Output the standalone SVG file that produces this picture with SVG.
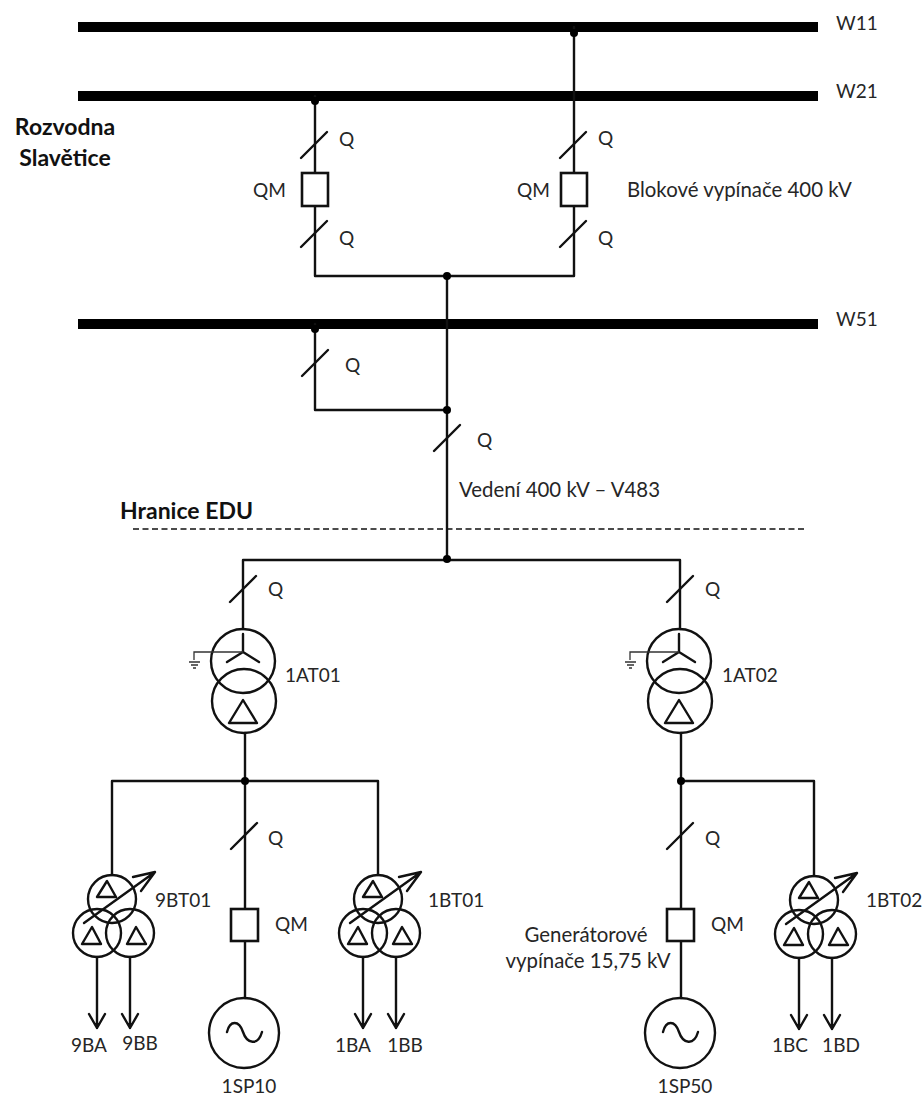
<svg xmlns="http://www.w3.org/2000/svg" width="924" height="1095" viewBox="0 0 924 1095">
<style>
text{font-family:Lato,"Liberation Sans",sans-serif;font-size:19px;fill:#262626}
.b{font-weight:700;font-size:23px;fill:#111}
.w{font-size:20.4px}
.m{text-anchor:middle}
.l{fill:none;stroke:#111;stroke-width:2.4;stroke-linecap:round;stroke-linejoin:round}
.g{fill:none;stroke:#333;stroke-width:1.3}
.s{fill:#fff;stroke:#111;stroke-width:2.6}
.bus{stroke:#000;stroke-width:10}
.d{fill:#000}
</style>
<defs>
<path id="slash" class="l" d="M-13 13L13 -13"/>
<g id="three">
<circle class="l" cx="0" cy="0" r="24"/><circle class="l" cx="-15" cy="34" r="24"/><circle class="l" cx="18" cy="34" r="24"/>
<path class="l" d="M-5 -18L-15 -2H4ZM-20 28L-30 45H-11ZM24 28L15 45H34Z"/>
<path class="l" d="M-28 24L43 -27M21 -22L43 -27L29 -8"/>
<path class="l" d="M-15 58V129M-23 115L-15 129L-7 115M18 58V129M10 115L18 129L26 115"/>
</g>
<g id="tx">
<circle class="l" cx="0" cy="0" r="32"/><circle class="l" cx="1" cy="40" r="32"/>
<path class="l" d="M0 -9V-27M0 -9L-16 1M0 -9L16 1M0 39L-14 62H14Z"/>
<path class="g" d="M0 -9H-49V-1M-54 1H-43M-52 4H-45M-50 7H-47"/>
</g>
<g id="gen">
<circle class="l" cx="0" cy="0" r="35"/>
<path class="l" d="M-17 -1C-14 -13 -5 -13 -1 -1C3 11 14 13 18 -1"/>
</g>
</defs>
<g id="connectors">
<path class="bus" d="M78 27H818M78 96H818M78 324H818"/>
<path class="l" d="M315 96V276H574V27M447 276V560M315 324V410H447"/>
<path d="M133 529H806" fill="none" stroke="#111" stroke-width="1.3" stroke-dasharray="6 3.5"/>
<path class="l" d="M243 629V560H680V629M245 733V998M112 875V781H378V875M681 733V998M681 781H814V876"/>
<g class="d"><circle cx="574" cy="33" r="4"/><circle cx="315" cy="101" r="4"/><circle cx="447" cy="276" r="4"/><circle cx="315" cy="329" r="4"/><circle cx="447" cy="410" r="4"/><circle cx="447" cy="559" r="4"/><circle cx="245" cy="781" r="4"/><circle cx="681" cy="781" r="4"/></g>
<use href="#slash" x="314" y="145"/><use href="#slash" x="314" y="234"/><use href="#slash" x="573" y="145"/><use href="#slash" x="573" y="234"/><use href="#slash" x="315" y="363"/><use href="#slash" x="447" y="438"/><use href="#slash" x="243" y="589"/><use href="#slash" x="680" y="589"/><use href="#slash" x="244" y="836"/><use href="#slash" x="680" y="836"/>
</g>
<g id="W11"><text x="836" y="30">W11</text></g>
<g id="W21"><text x="836" y="98">W21</text></g>
<g id="W51"><text x="836" y="326">W51</text></g>
<g id="rozvodna"><text class="b m" x="65" y="135">Rozvodna</text><text class="b m" x="65" y="166">Slavětice</text></g>
<g id="QM-left"><rect class="s" x="302" y="173" width="26" height="33"/><text x="253" y="197">QM</text></g>
<g id="QM-right"><rect class="s" x="561" y="173" width="26" height="33"/><text x="517" y="197">QM</text><text class="w" x="627" y="197">Blokové vypínače 400 kV</text></g>
<g id="Q-labels"><text x="339" y="146">Q</text><text x="339" y="245">Q</text><text x="598" y="145">Q</text><text x="598" y="245">Q</text><text x="345" y="372">Q</text><text x="477" y="447">Q</text><text x="268" y="596">Q</text><text x="705" y="596">Q</text><text x="268" y="845">Q</text><text x="705" y="845">Q</text></g>
<g id="vedeni"><text class="w" x="459" y="497">Vedení 400 kV – V483</text></g>
<g id="hranice"><text class="b" x="120" y="519">Hranice EDU</text></g>
<g id="AT01"><use href="#tx" x="243" y="661"/><text x="285" y="682">1AT01</text></g>
<g id="AT02"><use href="#tx" x="679" y="661"/><text x="722" y="682">1AT02</text></g>
<g id="BT9"><use href="#three" x="112" y="899"/><text x="155" y="907">9BT01</text><text class="m" x="89" y="1052">9BA</text><text class="m" x="140" y="1050">9BB</text></g>
<g id="BT1"><use href="#three" x="378" y="899"/><text x="428" y="907">1BT01</text><text class="m" x="353" y="1052">1BA</text><text class="m" x="405" y="1052">1BB</text></g>
<g id="BT2"><use href="#three" x="814" y="900"/><text x="866" y="907">1BT02</text><text class="m" x="790" y="1052">1BC</text><text class="m" x="841" y="1052">1BD</text></g>
<g id="SP10"><rect class="s" x="231" y="909" width="27" height="32"/><text x="275" y="931">QM</text><use href="#gen" x="244" y="1033"/><text class="m" x="249" y="1093">1SP10</text></g>
<g id="SP50"><rect class="s" x="667" y="909" width="27" height="32"/><text x="711" y="931">QM</text><use href="#gen" x="680" y="1033"/><text class="m" x="685" y="1093">1SP50</text><text class="w m" x="586" y="942">Generátorové</text><text class="w m" x="588" y="968">vypínače 15,75 kV</text></g>
</svg>
